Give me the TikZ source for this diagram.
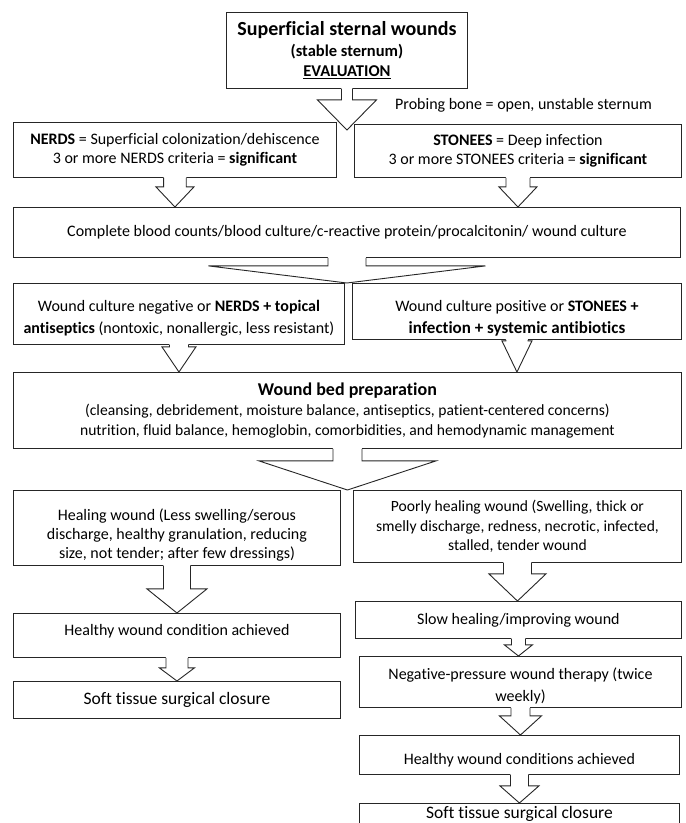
\documentclass[tikz,border=0pt]{standalone}
\usepackage{fontspec}
\setmainfont{Carlito}[Ligatures={NoCommon}]
\usetikzlibrary{calc}
\tikzset{
  box/.style={draw=black!85, line width=0.9pt, fill=white, inner sep=0pt,
    align=center, anchor=north west, font=\fontsize{16}{20}\selectfont},
  arrline/.style={draw=black!85, line width=0.9pt, line join=miter},
  plain/.style={inner sep=0pt, font=\fontsize{16}{20}\selectfont},
}
% #1 source node, #2 target node, #3 body half width, #4 head half width,
% #5 body length, #6 extra depth of tip below target top
\newcommand\barrow[6]{%
  \fill[white] let \p1=(#1.south), \p2=(#2.north) in
    (\x1-#3pt,\y1+1.2pt) -- (\x1-#3pt,\y1-#5pt) -- (\x1-#4pt,\y1-#5pt) --
    (\x1,\y2-#6pt) -- (\x1+#4pt,\y1-#5pt) -- (\x1+#3pt,\y1-#5pt) --
    (\x1+#3pt,\y1+1.2pt) -- cycle;
  \draw[arrline] let \p1=(#1.south), \p2=(#2.north) in
    (\x1-#3pt,\y1) -- (\x1-#3pt,\y1-#5pt) -- (\x1-#4pt,\y1-#5pt) --
    (\x1,\y2-#6pt) -- (\x1+#4pt,\y1-#5pt) -- (\x1+#3pt,\y1-#5pt) --
    (\x1+#3pt,\y1);}
\newcommand\upstrut[1]{\rule{0pt}{#1pt}}
\newcommand\downstrut[1]{\rule[-#1pt]{0pt}{1pt}}
\begin{document}
\begin{tikzpicture}[x=1pt,y=-1pt]
\useasboundingbox (0,0) rectangle (686,823);
\clip (0,0) rectangle (686,823);
\fill[white] (0,0) rectangle (686,823);

% boxes
\node[box, minimum width=241, minimum height=76] (T) at (226,12)
  {{\fontsize{20}{22}\selectfont\bfseries Superficial sternal wounds}\\[1pt]
   {\fontsize{16.5}{20}\selectfont\bfseries (stable sternum)}\\
   {\fontsize{16.5}{20}\selectfont\bfseries\underline{EVALUATION}}};
\node[plain, anchor=west] (probe) at (395,105) {Probing bone = open, unstable sternum};
\node[box, minimum width=323, minimum height=55, font=\fontsize{16}{18.5}\selectfont] (N) at (13,122)
  {\textbf{NERDS} = Superficial colonization/dehiscence\\
   3 or more NERDS criteria = \textbf{significant}};
\node[box, minimum width=327, minimum height=53, font=\fontsize{16}{18.5}\selectfont] (S) at (354,124)
  {\textbf{STONEES} = Deep infection\\
   3 or more STONEES criteria = \textbf{significant}};
\node[box, minimum width=667, minimum height=50] (C) at (13,207)
  {Complete blood counts/blood culture/c-reactive protein/procalcitonin/ wound culture};
\node[box, minimum width=331, minimum height=61, font=\fontsize{16}{22}\selectfont] (WN) at (13,283)
  {\upstrut{20}Wound culture negative or \textbf{NERDS + topical}\\
   \textbf{antiseptics} (nontoxic, nonallergic, less resistant)};
\node[box, minimum width=329, minimum height=56, font=\fontsize{16}{22}\selectfont] (WP) at (352,283)
  {\upstrut{24}Wound culture positive or \textbf{STONEES +}\\
   {\fontsize{17}{22}\selectfont\bfseries infection + systemic antibiotics}};
\node[box, minimum width=668, minimum height=76, font=\fontsize{15.6}{20}\selectfont] (B) at (13,372)
  {{\fontsize{18}{20}\selectfont\bfseries Wound bed preparation}\\
   (cleansing, debridement, moisture balance, antiseptics, patient-centered concerns)\\
   nutrition, fluid balance, hemoglobin, comorbidities, and hemodynamic management};
\node[box, minimum width=327, minimum height=75, font=\fontsize{16}{19}\selectfont] (H) at (13,490)
  {\upstrut{26}Healing wound (Less swelling/serous\\
   discharge, healthy granulation, reducing\\
   size, not tender; after few dressings)};
\node[box, minimum width=328, minimum height=72, font=\fontsize{15.6}{19.5}\selectfont] (P) at (353,490)
  {Poorly healing wound (Swelling, thick or\\
   smelly discharge, redness, necrotic, infected,\\
   stalled, tender wound};
\node[box, minimum width=327, minimum height=44] (HW) at (13,613)
  {\downstrut{12}Healthy wound condition achieved};
\node[box, minimum width=327, minimum height=37, font=\fontsize{17.5}{20}\selectfont] (SL) at (13,681)
  {Soft tissue surgical closure};
\node[box, minimum width=326, minimum height=37] (SH) at (355,601)
  {Slow healing/improving wound};
\node[box, minimum width=322, minimum height=51, font=\fontsize{16}{22}\selectfont] (NP) at (359,656)
  {\upstrut{20}Negative-pressure wound therapy (twice\\ weekly)};
\node[box, minimum width=320, minimum height=39] (HR) at (359,735)
  {\upstrut{22}Healthy wound conditions achieved};
\node[box, minimum width=320, minimum height=37, font=\fontsize{17.5}{20}\selectfont] (SR) at (359,803)
  {\smash{\raisebox{3pt}{Soft tissue surgical closure}}};

% block arrows
\barrow{T}{N}{5.5}{29.5}{11}{8}
\barrow{N}{C}{11.3}{19}{9}{0}
\barrow{S}{C}{12}{19}{9}{0}
\barrow{C}{WN}{19}{138.5}{8}{0}
\barrow{WN}{B}{9.5}{17}{2}{0}
\barrow{WP}{B}{11}{15}{1}{0}
\barrow{B}{H}{14.5}{88.5}{12}{0}
\barrow{H}{HW}{13.5}{30}{23}{0}
\barrow{HW}{SL}{11}{17.5}{10}{0}
\barrow{P}{SH}{14}{28.5}{11}{0}
\barrow{SH}{NP}{7}{14}{6}{0}
\barrow{NP}{HR}{9.5}{21}{8}{0}
\barrow{HR}{SR}{9}{19.5}{11}{0}
\end{tikzpicture}
\end{document}
